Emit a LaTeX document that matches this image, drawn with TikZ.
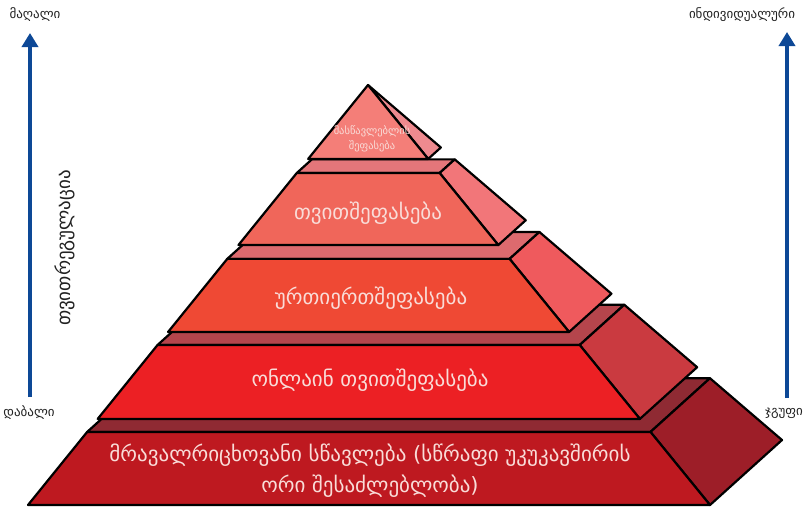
\documentclass[tikz,border=0pt]{standalone}
\usepackage{fontspec}
\setmainfont{DejaVu Sans}
\usetikzlibrary{calc,arrows.meta}

\definecolor{front1}{HTML}{F47E78}
\definecolor{side1}{HTML}{EE8A8F}
\definecolor{front2}{HTML}{F0665A}
\definecolor{side2}{HTML}{F27679}
\definecolor{top2}{HTML}{E4767A}
\definecolor{front3}{HTML}{EF4934}
\definecolor{side3}{HTML}{EF5A5D}
\definecolor{top3}{HTML}{DD6A6E}
\definecolor{front4}{HTML}{EC2024}
\definecolor{side4}{HTML}{CA3A40}
\definecolor{top4}{HTML}{B5454C}
\definecolor{front5}{HTML}{BE1920}
\definecolor{side5}{HTML}{9D1E28}
\definecolor{top5}{HTML}{8F2A33}
\definecolor{labeltext}{HTML}{F9DCD8}
\definecolor{axisblue}{HTML}{0D4896}
\definecolor{axistext}{HTML}{222222}

\begin{document}
\begin{tikzpicture}[x=1pt,y=-1pt,
  face/.style={draw=black,line width=2.2pt,line join=round},
  tiertext/.style={text=labeltext,font=\fontsize{21}{31}\selectfont,align=center,inner sep=0pt},
  smalltext/.style={text=labeltext,font=\fontsize{10.5}{15}\selectfont,align=center,inner sep=0pt},
  axislabel/.style={text=axistext,font=\fontsize{13}{16}\selectfont,inner sep=0pt},
  axisarrow/.style={draw=axisblue,line width=4.5pt,-{Triangle[width=16pt,length=14pt]}}]
\useasboundingbox (0,0) rectangle (805,507);

% corners of the whole pyramid
\coordinate (A)  at (368,85);
\coordinate (FL) at (28,505);
\coordinate (FR) at (710,505);
\coordinate (BR) at (782,440);
\coordinate (BL) at (100,440);

% the four lower tiers, drawn from the bottom up
\foreach \n/\ta/\tb/\ctop/\cside/\cfront in
  {5/0.826/1/top5/side5/front5,
   4/0.619/0.795/top4/side4/front4,
   3/0.414/0.588/top3/side3/front3,
   2/0.2095/0.381/top2/side2/front2}{
  \coordinate (t\n fl) at ($(A)!\ta!(FL)$);
  \coordinate (t\n fr) at ($(A)!\ta!(FR)$);
  \coordinate (t\n br) at ($(A)!\ta!(BR)$);
  \coordinate (t\n bl) at ($(A)!\ta!(BL)$);
  \coordinate (b\n fl) at ($(A)!\tb!(FL)$);
  \coordinate (b\n fr) at ($(A)!\tb!(FR)$);
  \coordinate (b\n br) at ($(A)!\tb!(BR)$);
  \filldraw[face,fill=\ctop] (t\n fl) -- (t\n fr) -- (t\n br) -- (t\n bl) -- cycle;
  \filldraw[face,fill=\cside] (t\n fr) -- (t\n br) -- (b\n br) -- (b\n fr) -- cycle;
  \filldraw[face,fill=\cfront] (t\n fl) -- (t\n fr) -- (b\n fr) -- (b\n fl) -- cycle;
}

% the apex
\coordinate (b1fl) at ($(A)!0.176!(FL)$);
\coordinate (b1fr) at ($(A)!0.176!(FR)$);
\coordinate (b1br) at ($(A)!0.176!(BR)$);
\filldraw[face,fill=side1] (A) -- (b1br) -- (b1fr) -- cycle;
\filldraw[face,fill=front1] (A) -- (b1fr) -- (b1fl) -- cycle;

% tier labels
\node[smalltext] (tier1) at (372,139) {მასწავლებლის\\შეფასება};
\node[tiertext] (tier2) at (368,213) {თვითშეფასება};
\node[tiertext] (tier3) at (371,298) {ურთიერთშეფასება};
\node[tiertext] (tier4) at (370,380) {ონლაინ თვითშეფასება};
\node[tiertext] (tier5) at (370,471) {მრავალრიცხოვანი სწავლება (სწრაფი უკუკავშირის\\ორი შესაძლებლობა)};

% axes at both sides
\coordinate (lowL)  at (30,397);
\coordinate (highL) at (30,33);
\coordinate (lowR)  at (787,398);
\coordinate (highR) at (787,32);
\draw[axisarrow] (lowL) -- (highL);
\draw[axisarrow] (lowR) -- (highR);

\node[axislabel] (high)  at (35,15)  {მაღალი};
\node[axislabel] (indiv) at (742,15) {ინდივიდუალური};
\node[axislabel] (low)   at (29,413) {დაბალი};
\node[axislabel] (group) at (784,413) {ჯგუფი};
\node[axislabel,font=\fontsize{19}{23}\selectfont,rotate=90] (selfreg) at (65,248) {თვითრეგულაცია};
\end{tikzpicture}
\end{document}
